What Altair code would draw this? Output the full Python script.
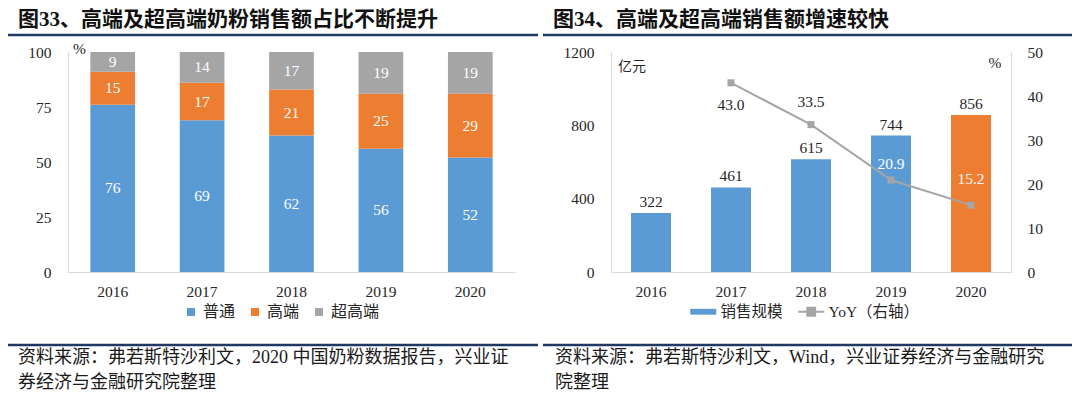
import altair as alt
import pandas as pd

# ---------------- data ----------------
years = ['2016', '2017', '2018', '2019', '2020']
share_normal = [76, 69, 62, 56, 52]
share_high = [15, 17, 21, 25, 29]
share_ultra = [9, 14, 17, 19, 19]
share_cats = ['普通', '高端', '超高端']

sales = [322, 461, 615, 744, 856]
yoy = [None, 43.0, 33.5, 20.9, 15.2]
sales_series = '销售规模'
yoy_series = 'YoY（右轴）'

title_left = '图33、高端及超高端奶粉销售额占比不断提升'
title_right = '图34、高端及超高端销售额增速较快'
source_left = '资料来源：弗若斯特沙利文，2020 中国奶粉数据报告，兴业证\n券经济与金融研究院整理'
source_right = '资料来源：弗若斯特沙利文，Wind，兴业证券经济与金融研究\n院整理'

# ---------------- style ----------------
FONT = 'Liberation Serif, Noto Sans CJK SC'
BLUE, ORANGE, GRAY = '#5B9BD5', '#ED7D31', '#A5A5A5'
NAVY = '#1F3864'
TXT = '#262626'

rows = []
for i, y in enumerate(years):
    for j, (c, vals) in enumerate(zip(share_cats, [share_normal, share_high, share_ultra])):
        rows.append({'year': y, 'cat': c, 'value': vals[i], 'ord': j})
df_share = pd.DataFrame(rows)

df_sales = pd.DataFrame({'year': years, 'sales': sales, 'yoy': yoy,
                         'series': sales_series, 'series2': yoy_series})

L_X = alt.Scale(domain=years, range=[60, 507], paddingInner=0.5, paddingOuter=0.25)
L_Y = alt.Scale(domain=[0, 100], range=[264, 44])
R_X = alt.Scale(domain=years, range=[603, 1003], paddingInner=0.5, paddingOuter=0.25)
R_Y = alt.Scale(domain=[0, 1200], range=[264, 44])
R_Y2 = alt.Scale(domain=[0, 50], range=[264, 44])

def xaxis():
    return alt.Axis(orient='bottom', offset=-123, labelAngle=0, labelPadding=12,
                    domain=True, ticks=False, grid=False, title=None)

# ---------------- left panel ----------------
bars_left = alt.Chart(df_share).mark_bar().encode(
    x=alt.X('year:N', scale=L_X, axis=xaxis()),
    y=alt.Y('value:Q', stack='zero', scale=L_Y,
            axis=alt.Axis(orient='left', offset=-60, values=[0, 25, 50, 75, 100], format='d',
                          labelPadding=17, domain=True, ticks=False, grid=False, title=None)),
    color=alt.Color('cat:N', scale=alt.Scale(domain=share_cats, range=[BLUE, ORANGE, GRAY]),
                    legend=alt.Legend(orient='none', legendX=175, legendY=296, direction='horizontal',
                                      title=None, symbolType='square', symbolSize=64,
                                      symbolStrokeWidth=0, labelFont=FONT, labelFontSize=16,
                                      labelColor=TXT, columnPadding=11, labelOffset=4, padding=0)),
    order=alt.Order('ord:Q', sort='ascending'),
)

labels_left = alt.Chart(df_share).transform_stack(
    stack='value', groupby=['year'], as_=['v0', 'v1'], sort=[alt.SortField('ord', order='ascending')]
).transform_calculate(mid='(datum.v0 + datum.v1) / 2').mark_text(
    color='white', font=FONT, fontSize=15.5, baseline='middle'
).encode(
    x=alt.X('year:N', scale=L_X, axis=None),
    y=alt.Y('mid:Q', scale=L_Y, axis=None),
    text='value:Q',
)

# ---------------- right panel ----------------
bars_right = alt.Chart(df_sales).mark_bar().encode(
    x=alt.X('year:N', scale=R_X, axis=xaxis()),
    y=alt.Y('sales:Q', scale=R_Y,
            axis=alt.Axis(orient='left', offset=-603, values=[0, 400, 800, 1200], format='d',
                          labelPadding=17, domain=True, ticks=False, grid=False, title=None)),
    fill=alt.condition(alt.datum.year == '2020', alt.value(ORANGE),
                       alt.Fill('series:N', scale=alt.Scale(domain=[sales_series], range=[BLUE]),
                                legend=alt.Legend(orient='none', legendX=681, legendY=296, title=None,
                                                  symbolType='M-1,-0.45H3V0.45H-1Z', symbolSize=169,
                                                  symbolStrokeWidth=0, labelOffset=16, labelFont=FONT,
                                                  labelFontSize=15.5, labelColor=TXT, padding=0))),
)

labels_right = alt.Chart(df_sales).mark_text(
    color=TXT, font=FONT, fontSize=15.5, baseline='middle', dy=-11
).encode(
    x=alt.X('year:N', scale=R_X, axis=None),
    y=alt.Y('sales:Q', scale=R_Y, axis=None),
    text='sales:Q',
)

line_yoy = alt.Chart(df_sales).transform_filter('isValid(datum.yoy)').mark_line(strokeWidth=2).encode(
    x=alt.X('year:N', scale=R_X, axis=None),
    y=alt.Y('yoy:Q', scale=R_Y2,
            axis=alt.Axis(orient='right', offset=-61, values=[0, 10, 20, 30, 40, 50], format='d',
                          labelPadding=16, domain=True, ticks=False, grid=False, title=None)),
    stroke=alt.Stroke('series2:N', scale=alt.Scale(domain=[yoy_series], range=[GRAY]),
                      legend=alt.Legend(orient='none', legendX=789, legendY=296, title=None,
                                        symbolType='M-1,0H3M0.4,-0.6H1.6V0.6H0.4Z', symbolSize=169,
                                        symbolFillColor=GRAY, symbolStrokeWidth=2, labelOffset=16,
                                        labelFont=FONT, labelFontSize=15.5, labelColor=TXT, padding=0)),
)

points_yoy = alt.Chart(df_sales).transform_filter('isValid(datum.yoy)').mark_point(
    shape='square', filled=True, size=50, color=GRAY, opacity=1
).encode(
    x=alt.X('year:N', scale=R_X, axis=None),
    y=alt.Y('yoy:Q', scale=R_Y2, axis=None),
)

def yoy_label(year, dy, color):
    return alt.Chart(df_sales).transform_filter(alt.datum.year == year).mark_text(
        color=color, font=FONT, fontSize=15.5, baseline='middle', dy=dy
    ).encode(
        x=alt.X('year:N', scale=R_X, axis=None),
        y=alt.Y('yoy:Q', scale=R_Y2, axis=None),
        text=alt.Text('yoy:Q', format='.1f'),
    )

yoy_labels = [yoy_label('2017', 22, TXT), yoy_label('2018', -23, TXT),
              yoy_label('2019', -16, 'white'), yoy_label('2020', -26, 'white')]

# ---------------- decorations ----------------
one = pd.DataFrame({'k': [0]})

def text_at(t, x, y, **kw):
    d = pd.DataFrame({'t': [t]})
    return alt.Chart(d).mark_text(font=FONT, **kw).encode(
        x=alt.value(x), y=alt.value(y), text='t:N')

def hrule(x1, x2, y, color=NAVY, w=2.5):
    return alt.Chart(one).mark_rule(color=color, strokeWidth=w).encode(
        x=alt.value(x1), x2=alt.value(x2), y=alt.value(y))

decor = [
    text_at(title_left, 10, 12, align='left', baseline='middle', fontSize=21, fontWeight='bold', color='#111'),
    text_at(title_right, 545, 12, align='left', baseline='middle', fontSize=21, fontWeight='bold', color='#111'),
    hrule(0, 530, 27), hrule(535, 1064, 27),
    hrule(0, 530, 337), hrule(535, 1064, 337),
    text_at(source_left, 10, 341, align='left', baseline='top', fontSize=18, lineBreak='\n',
            lineHeight=25, color='#1a1a1a'),
    text_at(source_right, 547, 341, align='left', baseline='top', fontSize=18, lineBreak='\n',
            lineHeight=25, color='#1a1a1a'),
    text_at('%', 65, 41, align='left', baseline='middle', fontSize=15.5, color=TXT),
    text_at('亿元', 610, 59, align='left', baseline='middle', fontSize=14, color=TXT),
    text_at('%', 987, 55, align='center', baseline='middle', fontSize=15.5, color=TXT),
]

chart = alt.layer(
    bars_left, labels_left, bars_right, labels_right, line_yoy, points_yoy, *yoy_labels, *decor
).resolve_scale(
    x='independent', y='independent', color='independent', fill='independent', stroke='independent'
).properties(
    width=1064, height=387, autosize=alt.AutoSizeParams(type='none'), padding=0, background='white'
).configure_view(stroke=None).configure_axis(
    labelFont=FONT, labelFontSize=15.5, labelColor=TXT, domainColor='#D9D9D9', domainWidth=1.2
)

chart.save('out.html', embed_options={'renderer': 'svg', 'actions': False})
